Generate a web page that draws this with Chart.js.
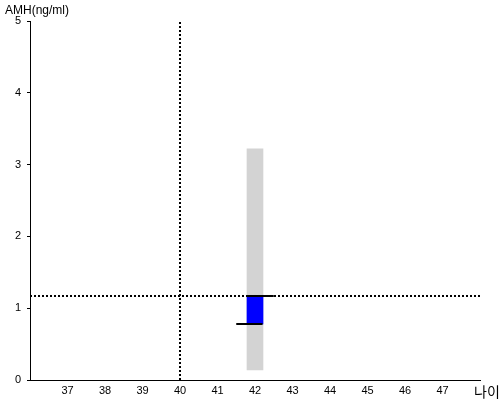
<!DOCTYPE html>
<html>
<head>
<meta charset="utf-8">
<script src="https://cdn.jsdelivr.net/npm/chart.js@4"></script>
<style>
  body { margin: 0; background: #fff; }
</style>
</head>
<body>
<canvas id="amhChart" width="500" height="400"></canvas>
<script>
// DATA
const ageTicks = [37, 38, 39, 40, 41, 42, 43, 44, 45, 46, 47];
const amhTicks = [0, 1, 2, 3, 4, 5];
const refAge = 40;          // vertical dotted line
const refAmh = 1.17;        // horizontal dotted line
const patientAge = 42;
const normalRange = [0.14, 3.22];   // grey bar
const patientRange = [0.78, 1.17];  // blue bar
const upperMark = [41.8, 42.5];     // black line at top of blue bar
const lowerMark = [41.5, 42.2];     // black line at bottom of blue bar

const labelPlugin = {
    id: 'axisTitles',
    afterDraw(chart) {
        const c = chart.ctx;
        c.save();
        c.fillStyle = '#000';
        c.textBaseline = 'middle';
        c.font = '12px "Liberation Sans", Arial, sans-serif';
        c.fillText('AMH(ng/ml)', 5, 11);
        c.font = '14px "Noto Sans CJK KR", sans-serif';
        c.fillText('나이', 474, 392);
        c.restore();
    }
};

const ctx = document.getElementById('amhChart').getContext('2d');
const amhChart = new Chart(ctx, {
    type: 'bar',
    data: {
        datasets: [
            {
                type: 'line',
                data: [{x: upperMark[0], y: patientRange[1]}, {x: upperMark[1], y: patientRange[1]}],
                borderColor: '#000',
                borderWidth: 2,
                pointRadius: 0,
                order: 1
            },
            {
                type: 'line',
                data: [{x: lowerMark[0], y: patientRange[0]}, {x: lowerMark[1], y: patientRange[0]}],
                borderColor: '#000',
                borderWidth: 2,
                pointRadius: 0,
                order: 1
            },
            {
                type: 'line',
                data: [{x: refAge, y: 0}, {x: refAge, y: 5}],
                borderColor: '#000',
                borderWidth: 2,
                borderDash: [2, 2],
                pointRadius: 0,
                order: 2
            },
            {
                type: 'line',
                data: [{x: 36, y: refAmh}, {x: 48, y: refAmh}],
                borderColor: '#000',
                borderWidth: 2,
                borderDash: [2, 2],
                pointRadius: 0,
                order: 2
            },
            {
                data: [{x: patientAge, y: patientRange}],
                backgroundColor: '#0000ff',
                barThickness: 16,
                grouped: false,
                order: 3
            },
            {
                data: [{x: patientAge, y: normalRange}],
                backgroundColor: '#d3d3d3',
                barThickness: 16,
                grouped: false,
                order: 4
            }
        ]
    },
    options: {
        responsive: false,
        animation: false,
        layout: { padding: { top: 21, right: 20, left: 0, bottom: 0 } },
        plugins: {
            legend: { display: false },
            tooltip: { enabled: false }
        },
        scales: {
            x: {
                type: 'linear',
                min: 36,
                max: 48,
                offset: false,
                afterBuildTicks: (scale) => { scale.ticks = ageTicks.map(v => ({value: v})); },
                afterFit: (scale) => { scale.height = 20; },
                grid: { drawOnChartArea: false, drawTicks: false },
                border: { color: '#000', width: 1 },
                ticks: {
                    color: '#000',
                    padding: 4,
                    maxRotation: 0,
                    font: { family: '"Liberation Sans", Arial, sans-serif', size: 11 }
                }
            },
            y: {
                min: 0,
                max: 5,
                afterBuildTicks: (scale) => { scale.ticks = amhTicks.map(v => ({value: v})); },
                afterFit: (scale) => { scale.width = 30; },
                grid: { drawOnChartArea: false, drawTicks: true, tickLength: 3, color: '#000' },
                border: { color: '#000', width: 1 },
                ticks: {
                    color: '#000',
                    padding: 6,
                    font: { family: '"Liberation Sans", Arial, sans-serif', size: 11 }
                }
            }
        }
    },
    plugins: [labelPlugin]
});
</script>
</body>
</html>
